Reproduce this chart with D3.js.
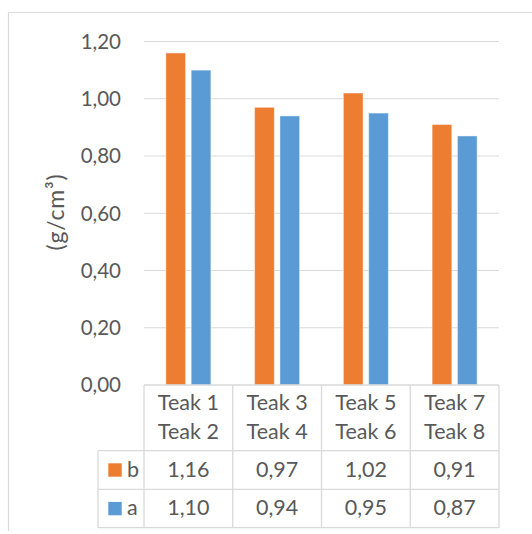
<!DOCTYPE html>
<html>
<head>
<meta charset="utf-8">
<script src="https://cdn.jsdelivr.net/npm/d3@7/dist/d3.min.js"></script>
<style>
  html, body { margin: 0; padding: 0; background: #fff; }
  svg { display: block; }
  text { font-family: Lato, "Open Sans", sans-serif; fill: #595959; }
</style>
</head>
<body>
<svg id="chart" width="532" height="534"></svg>
<script>
// ---- data ----
const categoriesTop = ["Teak 1", "Teak 3", "Teak 5", "Teak 7"];
const categoriesBottom = ["Teak 2", "Teak 4", "Teak 6", "Teak 8"];
const seriesNames = ["b", "a"];
const seriesColors = ["#ED7D31", "#5B9BD5"];
const valuesB = [1.16, 0.97, 1.02, 0.91];
const valuesA = [1.10, 0.94, 0.95, 0.87];
const yTicks = [0, 0.2, 0.4, 0.6, 0.8, 1.0, 1.2];
const yLabel = "(g/cm³)";

const seriesValues = [valuesB, valuesA];
const fmt = v => d3.format(".2f")(v).replace(".", ",");

// ---- layout ----
const plotLeft = 144, plotRight = 499, plotTop = 41.5, plotBottom = 385;
const legendLeft = 98;
const headerBottom = 450.7, rowBBottom = 489.3, rowABottom = 527.7;
const gridColor = "#d9d9d9";

const svg = d3.select("#chart");

// outer frame
svg.append("line").attr("x1", 8.5).attr("x2", 532).attr("y1", 12.5).attr("y2", 12.5)
  .attr("stroke", gridColor).attr("stroke-width", 1.2);
svg.append("line").attr("x1", 8.5).attr("x2", 8.5).attr("y1", 12.5).attr("y2", 531)
  .attr("stroke", gridColor).attr("stroke-width", 1.2);

const y = d3.scaleLinear().domain([0, 1.2]).range([plotBottom, plotTop]);
const x0 = d3.scaleBand().domain(categoriesTop).range([plotLeft, plotRight]).paddingInner(0).paddingOuter(0);
const x1 = d3.scaleBand().domain(seriesNames).range([0, x0.bandwidth()]).paddingInner(0.221).paddingOuter(0.864);

// gridlines
svg.append("g").selectAll("line").data(yTicks.filter(t => t > 0)).join("line")
  .attr("x1", plotLeft).attr("x2", plotRight)
  .attr("y1", d => y(d)).attr("y2", d => y(d))
  .attr("stroke", gridColor).attr("stroke-width", 1.2);

// y tick labels
svg.append("g").selectAll("text").data(yTicks).join("text")
  .attr("x", 121).attr("y", d => y(d))
  .attr("dy", "0.36em")
  .attr("text-anchor", "end")
  .style("font-size", "20.5px")
  .text(d => fmt(d));

// y label
svg.append("text")
  .attr("transform", "translate(64,212) rotate(-90)")
  .attr("text-anchor", "middle")
  .style("font-size", "23px")
  .style("letter-spacing", "0.8px")
  .text(yLabel);

// bars
const groups = svg.append("g").selectAll("g").data(categoriesTop).join("g")
  .attr("transform", d => `translate(${x0(d)},0)`);
groups.selectAll("rect")
  .data((d, i) => seriesNames.map((s, j) => ({ s, j, v: seriesValues[j][i] })))
  .join("rect")
  .attr("x", d => x1(d.s))
  .attr("width", x1.bandwidth())
  .attr("y", d => y(d.v))
  .attr("height", d => y(0) - y(d.v))
  .attr("fill", d => seriesColors[d.j])
  .attr("stroke", "#ffffff").attr("stroke-opacity", 0.45).attr("stroke-width", 1);

// ---- data table ----
const tbl = svg.append("g").attr("stroke", gridColor).attr("stroke-width", 1.3);
tbl.append("line").attr("x1", plotLeft).attr("x2", plotRight).attr("y1", plotBottom).attr("y2", plotBottom);
[headerBottom, rowBBottom, rowABottom].forEach(yy =>
  tbl.append("line").attr("x1", legendLeft).attr("x2", plotRight).attr("y1", yy).attr("y2", yy));
const colEdges = categoriesTop.map(c => x0(c)).concat([plotRight]);
tbl.selectAll("line.v").data(colEdges).join("line").attr("class", "v")
  .attr("x1", d => d).attr("x2", d => d).attr("y1", plotBottom).attr("y2", rowABottom);
tbl.append("line").attr("x1", legendLeft).attr("x2", legendLeft).attr("y1", headerBottom).attr("y2", rowABottom);

// header text
const tfs = "21.5px";
svg.append("g").selectAll("text").data(categoriesTop).join("text")
  .attr("x", d => x0(d) + x0.bandwidth() / 2).attr("y", 410)
  .attr("text-anchor", "middle").style("font-size", tfs).text(d => d);
svg.append("g").selectAll("text").data(categoriesBottom).join("text")
  .attr("x", (d, i) => x0(categoriesTop[i]) + x0.bandwidth() / 2).attr("y", 439)
  .attr("text-anchor", "middle").style("font-size", tfs).text(d => d);

// value rows
const rowBaselines = [477, 515];
const rowTops = [headerBottom, rowBBottom];
seriesNames.forEach((s, j) => {
  svg.append("g").selectAll("text").data(seriesValues[j]).join("text")
    .attr("x", (d, i) => x0(categoriesTop[i]) + x0.bandwidth() / 2)
    .attr("y", rowBaselines[j])
    .attr("text-anchor", "middle").style("font-size", tfs)
    .text(d => fmt(d));
  svg.append("rect")
    .attr("x", 108.3).attr("y", rowTops[j] + 12.6)
    .attr("width", 13.4).attr("height", 13.4)
    .attr("fill", seriesColors[j]);
  svg.append("text")
    .attr("x", 127).attr("y", rowBaselines[j])
    .style("font-size", tfs).text(s);
});
</script>
</body>
</html>
